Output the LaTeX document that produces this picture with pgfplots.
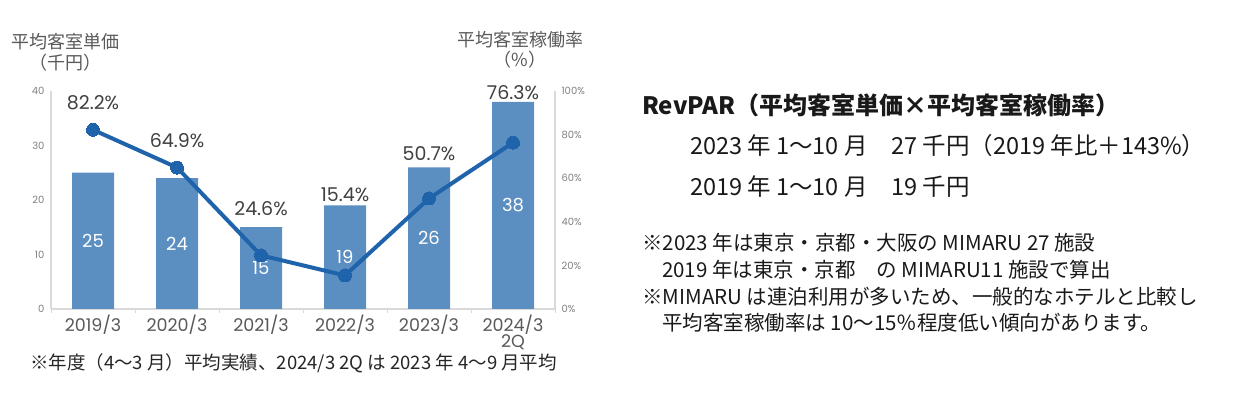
\documentclass[border=0pt]{standalone}
\usepackage{fontspec}
\setmainfont{Noto Sans CJK JP}
\newfontfamily\chartfont{Poppins}
\usepackage{pgfplots}
\usepackage{pgfplotstable}
\pgfplotsset{compat=1.18}
\definecolor{barblue}{HTML}{5B8EC1}
\definecolor{lineblue}{HTML}{1F63AB}
\definecolor{axisgray}{HTML}{D9D9D9}
\definecolor{ticktext}{HTML}{7F7F7F}
\definecolor{labeltext}{HTML}{595959}
\definecolor{pcttext}{HTML}{404040}
\pgfplotstableread{
x price occ
0 25 82.2
1 24 64.9
2 15 24.6
3 19 15.4
4 26 50.7
5 38 76.3
}\data
\begin{document}
\begin{tikzpicture}
\begin{axis}[
  at={(51pt,84pt)}, anchor=south west, scale only axis, width=504pt, height=218pt,
  xmin=-0.5, xmax=5.5, ymin=0, ymax=40,
  axis x line*=bottom, axis y line*=left,
  axis line style={axisgray, line width=1.5pt},
  xtick={0,1,2,3,4,5},
  xticklabels={2019/3,2020/3,2021/3,2022/3,2023/3,{2024/3\\2Q}},
  xticklabel style={align=center, font=\chartfont\fontsize{17.5}{16}\selectfont, text=labeltext, yshift=-2.5pt},
  major tick length=0pt,
  extra x ticks={-0.5,0.5,1.5,2.5,3.5,4.5,5.5}, extra x tick labels={},
  extra x tick style={major tick length=4pt, tick align=outside, tick style={axisgray, line width=1pt}},
  ytick={0,10,20,30,40},
  yticklabel style={font=\chartfont\fontsize{10}{12}\selectfont, text=ticktext, xshift=-3pt},
  /pgf/number format/assume math mode=true,
  clip=false,
]
\addplot[ybar, bar width=42pt, fill=barblue, draw=none, bar shift=0pt] table[x=x,y=price]{\data};
\node[text=white, font=\chartfont\fontsize{18}{18}\selectfont] at (axis cs:0,12.5) {25};
\node[text=white, font=\chartfont\fontsize{18}{18}\selectfont] at (axis cs:1,12) {24};
\node[text=white, font=\chartfont\fontsize{18}{18}\selectfont] at (axis cs:2,7.5) {15};
\node[text=white, font=\chartfont\fontsize{18}{18}\selectfont] at (axis cs:3,9.5) {19};
\node[text=white, font=\chartfont\fontsize{18}{18}\selectfont] at (axis cs:4,13) {26};
\node[text=white, font=\chartfont\fontsize{18}{18}\selectfont] at (axis cs:5,19) {38};
\end{axis}
\begin{axis}[
  at={(51pt,84pt)}, anchor=south west, scale only axis, width=504pt, height=218pt,
  xmin=-0.5, xmax=5.5, ymin=0, ymax=100,
  axis x line=none, axis y line*=right,
  axis line style={axisgray, line width=1.5pt},
  ytick={0,20,40,60,80,100},
  yticklabel={\pgfmathprintnumber{\tick}\%},
  yticklabel style={font=\chartfont\fontsize{10}{12}\selectfont, text=ticktext, xshift=3pt},
  major tick length=0pt,
  /pgf/number format/assume math mode=true,
  clip=false,
]
\addplot[lineblue, line width=4pt, mark=*, mark size=6.5pt, mark options={line width=0pt, fill=lineblue}] table[x=x,y=occ]{\data};
\node[text=pcttext, font=\chartfont\fontsize{19}{19}\selectfont] at (axis cs:0,94.5) {82.2\%};
\node[text=pcttext, font=\chartfont\fontsize{19}{19}\selectfont] at (axis cs:1,77.1) {64.9\%};
\node[text=pcttext, font=\chartfont\fontsize{19}{19}\selectfont] at (axis cs:2,45.9) {24.6\%};
\node[text=pcttext, font=\chartfont\fontsize{19}{19}\selectfont] at (axis cs:3,52.3) {15.4\%};
\node[text=pcttext, font=\chartfont\fontsize{19}{19}\selectfont] at (axis cs:4,71.1) {50.7\%};
\node[text=pcttext, font=\chartfont\fontsize{19}{19}\selectfont] at (axis cs:5,99.1) {76.3\%};
\end{axis}
% titles
\node[text=labeltext, font=\fontsize{18}{20}\selectfont] at (65pt,351pt) {平均客室単価};
\node[text=labeltext, font=\fontsize{18}{20}\selectfont] at (65pt,330pt) {（千円）};
\node[text=labeltext, font=\fontsize{18}{20}\selectfont] at (520pt,353pt) {平均客室稼働率};
\node[text=labeltext, font=\fontsize{18}{20}\selectfont] at (520pt,333pt) {（\%）};
\node[anchor=west, inner sep=0pt, text=black!85, font=\fontsize{18.5}{20}\selectfont] at (30pt,30pt) {※年度（4～3 月）平均実績、2024/3 2Q は 2023 年 4～9 月平均};
% right text
\node[anchor=west, inner sep=0pt, text=black!90, font=\bfseries\fontsize{24}{26}\selectfont] at (642pt,288pt) {RevPAR（平均客室単価×平均客室稼働率）};
\node[anchor=west, inner sep=0pt, text=black!90, font=\fontsize{23.5}{25}\selectfont] at (690pt,247pt) {2023 年 1～10 月　27 千円（2019 年比＋143\%）};
\node[anchor=west, inner sep=0pt, text=black!90, font=\fontsize{23.5}{25}\selectfont] at (690pt,206pt) {2019 年 1～10 月　19 千円};
\node[anchor=west, inner sep=0pt, text=black!90, font=\fontsize{20.5}{22}\selectfont] at (642pt,150pt) {※2023 年は東京・京都・大阪の MIMARU 27 施設};
\node[anchor=west, inner sep=0pt, text=black!90, font=\fontsize{20.5}{22}\selectfont] at (662pt,123pt) {2019 年は東京・京都　の MIMARU11 施設で算出};
\node[anchor=west, inner sep=0pt, text=black!90, font=\fontsize{20.5}{22}\selectfont] at (642pt,96pt) {※MIMARU は連泊利用が多いため、一般的なホテルと比較し};
\node[anchor=west, inner sep=0pt, text=black!90, font=\fontsize{20.5}{22}\selectfont] at (662pt,70pt) {平均客室稼働率は 10～15％程度低い傾向があります。};
\pgfresetboundingbox
\path[use as bounding box] (0pt,0pt) rectangle (1236pt,393pt);
\end{tikzpicture}
\end{document}
